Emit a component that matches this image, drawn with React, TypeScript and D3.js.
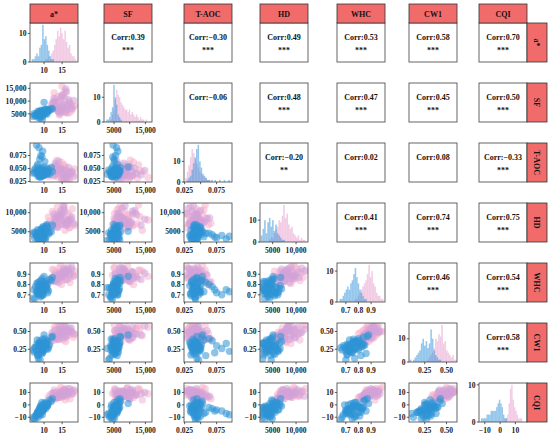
import React from "react";
import * as d3 from "d3";

const VARS = ["a*", "SF", "T-AOC", "HD", "WHC", "CW1", "CQI"];
const DOMAINS: [number, number][] = [
  [6.1, 19.4], [1800, 17100], [0.024, 0.099], [2300, 12550], [0.63, 1.01], [0.07, 0.62], [-13.8, 17.6],
];
const TICKS: number[][] = [
  [10, 15], [5000, 10000, 15000], [0.025, 0.05, 0.075], [5000, 10000], [0.7, 0.8, 0.9], [0.25, 0.5], [-10, 0, 10],
];
// x-axis labels that are hidden because of overlap
const X_HIDDEN: number[][] = [[], [10000], [0.05], [], [], [], []];

// columns: a*, SF, T-AOC, HD, WHC, CW1, CQI
const BLUE_ROWS: number[][] = [
  [9.2, 5200, 0.042, 5600, 0.72, 0.31, -3], [8.5, 4800, 0.038, 4100, 0.8, 0.24, -6],
  [10.1, 5600, 0.045, 3400, 0.76, 0.35, -1], [9.8, 6100, 0.04, 6100, 0.7, 0.22, -4],
  [7.6, 4300, 0.05, 4700, 0.78, 0.28, -9], [8.9, 5000, 0.036, 3000, 0.83, 0.33, -2],
  [11.2, 6500, 0.047, 4400, 0.74, 0.27, 1], [9.5, 5400, 0.043, 5200, 0.86, 0.19, -5],
  [8.1, 4600, 0.055, 3700, 0.73, 0.38, -7], [10.6, 5900, 0.039, 6600, 0.79, 0.26, 0],
  [9.0, 3900, 0.041, 4000, 0.68, 0.3, -8], [7.2, 5100, 0.046, 4900, 0.75, 0.21, -11],
  [10.3, 6800, 0.044, 2800, 0.81, 0.34, -2], [9.4, 5700, 0.048, 5800, 0.77, 0.25, 2],
  [8.7, 4400, 0.034, 4300, 0.71, 0.32, -5], [12.0, 7100, 0.052, 5000, 0.84, 0.42, 3],
  [9.9, 5300, 0.037, 3600, 0.74, 0.29, -3], [8.3, 6000, 0.058, 4600, 0.82, 0.16, -6],
  [10.8, 4900, 0.041, 6900, 0.76, 0.36, -1], [9.1, 5500, 0.075, 3400, 0.72, 0.3, -4],
  [8.6, 5800, 0.09, 3100, 0.75, 0.33, -7], [9.6, 6200, 0.083, 4000, 0.7, 0.26, -5],
  [8.8, 5000, 0.068, 4200, 0.78, 0.37, -3], [7.9, 4700, 0.095, 3800, 0.73, 0.22, -8],
  [10.2, 5100, 0.063, 4600, 0.8, 0.4, -2], [9.3, 4200, 0.035, 5400, 0.69, 0.28, 0],
  [8.4, 3600, 0.044, 2900, 0.77, 0.12, -10], [11.5, 6300, 0.039, 4800, 0.85, 0.31, 4],
  [9.7, 5200, 0.049, 6300, 0.73, 0.23, -4], [7.4, 4500, 0.042, 3300, 0.66, 0.27, -12],
  [10.0, 9500, 0.053, 5100, 0.88, 0.45, 1], [9.0, 5600, 0.033, 3900, 0.79, 0.35, -1],
  [8.2, 5300, 0.04, 5500, 0.71, 0.18, -6], [10.5, 6600, 0.046, 3500, 0.83, 0.29, -3],
  [9.6, 4100, 0.038, 4500, 0.76, 0.39, -2], [11.0, 5800, 0.05, 6000, 0.72, 0.25, 0],
  [8.0, 4900, 0.045, 4100, 0.81, 0.32, -9], [9.2, 6400, 0.037, 3200, 0.74, 0.21, -3],
  [10.4, 5000, 0.043, 5700, 0.78, 0.34, 2], [8.9, 3300, 0.047, 4700, 0.7, 0.1, -7],
  [9.8, 5700, 0.036, 3800, 0.82, 0.28, -4], [7.0, 4000, 0.041, 4400, 0.67, 0.24, -10],
  [12.3, 6900, 0.044, 6700, 0.87, 0.43, 5], [9.4, 4600, 0.072, 3600, 0.75, 0.2, -5],
  [10.9, 6100, 0.04, 4900, 0.8, 0.37, -1], [8.5, 5400, 0.048, 5300, 0.73, 0.3, -4],
  [9.5, 2800, 0.039, 2700, 0.77, 0.26, -8], [9.1, 5900, 0.051, 4300, 0.84, 0.31, -2],
  [10.7, 6700, 0.042, 6400, 0.76, 0.33, 1], [8.3, 4300, 0.035, 3100, 0.71, 0.17, -6],
];
const PINK_ROWS: number[][] = [
  [14.5, 7500, 0.045, 9200, 0.84, 0.52, 6], [13.2, 10800, 0.036, 6500, 0.92, 0.41, 10],
  [16.0, 6200, 0.052, 8000, 0.88, 0.36, 8], [15.1, 12500, 0.031, 7100, 0.86, 0.55, 12],
  [12.3, 8400, 0.048, 10300, 0.95, 0.46, 7], [17.2, 5600, 0.04, 6200, 0.82, 0.49, 5],
  [14.0, 9600, 0.058, 8700, 0.9, 0.39, 9], [13.7, 6800, 0.034, 11500, 0.87, 0.58, 11],
  [15.8, 14000, 0.044, 5400, 0.93, 0.44, 4], [11.6, 7200, 0.05, 7800, 0.85, 0.34, 8],
  [16.6, 5200, 0.029, 9800, 0.97, 0.51, 13], [14.8, 11200, 0.062, 6800, 0.8, 0.47, 6],
  [13.0, 9000, 0.042, 8300, 0.91, 0.57, 10], [18.1, 7800, 0.038, 7400, 0.89, 0.42, 9],
  [15.4, 6000, 0.055, 10800, 0.84, 0.38, 7], [12.8, 13200, 0.046, 9000, 0.94, 0.53, 12],
  [16.9, 8800, 0.027, 6000, 0.87, 0.45, 8], [14.2, 5000, 0.039, 8500, 0.96, 0.6, 11],
  [13.5, 10200, 0.066, 7200, 0.83, 0.4, 5], [17.8, 6600, 0.043, 11000, 0.91, 0.48, 10],
  [15.0, 15800, 0.033, 8100, 0.88, 0.56, 9], [12.0, 7000, 0.047, 5800, 0.86, 0.37, 3],
  [14.6, 9300, 0.053, 9500, 0.99, 0.5, 14], [16.3, 5800, 0.037, 7600, 0.85, 0.43, 7],
  [13.9, 11800, 0.041, 10000, 0.9, 0.54, 8], [18.4, 8200, 0.049, 6600, 0.93, 0.46, 11],
  [11.2, 6400, 0.035, 8900, 0.81, 0.33, 6], [15.6, 12800, 0.057, 12000, 0.94, 0.59, 13],
  [14.3, 4500, 0.045, 6900, 0.89, 0.41, 9], [17.0, 9900, 0.03, 9300, 0.86, 0.52, 10],
];
const VIOLET_ROWS: number[][] = [
  [15.2, 8600, 0.047, 7000, 0.9, 0.48, 8], [13.4, 7300, 0.039, 8800, 0.86, 0.44, 7],
  [16.8, 10500, 0.052, 7700, 0.93, 0.5, 10], [14.1, 6100, 0.044, 9600, 0.88, 0.53, 9],
  [12.5, 9500, 0.036, 6400, 0.84, 0.4, 6], [17.5, 7900, 0.041, 8200, 0.95, 0.55, 11],
  [14.7, 11600, 0.05, 10600, 0.87, 0.47, 8], [15.9, 5500, 0.033, 7300, 0.91, 0.42, 12],
  [13.1, 8100, 0.06, 8400, 0.89, 0.51, 7], [16.2, 13600, 0.038, 6700, 0.85, 0.45, 9],
  [14.4, 6900, 0.046, 9100, 0.92, 0.57, 10], [12.9, 10000, 0.054, 7500, 0.83, 0.38, 5],
  [15.5, 7600, 0.031, 11200, 0.96, 0.49, 11], [17.1, 9200, 0.043, 8000, 0.9, 0.54, 13],
  [13.8, 6300, 0.048, 6100, 0.87, 0.43, 6], [15.0, 12200, 0.04, 9400, 0.88, 0.46, 8],
  [16.5, 8300, 0.035, 7800, 0.94, 0.52, 10], [14.0, 5900, 0.064, 8600, 0.82, 0.39, 7],
  [12.2, 8900, 0.042, 7100, 0.86, 0.48, 9], [15.7, 10900, 0.037, 10400, 0.92, 0.56, 12],
  [17.7, 7100, 0.045, 8900, 0.97, 0.5, 9], [13.6, 9700, 0.051, 6300, 0.85, 0.44, 6],
  [14.9, 6500, 0.028, 9800, 0.89, 0.41, 11], [16.0, 14800, 0.046, 8300, 0.91, 0.58, 10],
  [13.3, 7700, 0.056, 7600, 0.84, 0.45, 8], [15.3, 8500, 0.039, 11800, 0.93, 0.53, 7],
  [18.2, 10300, 0.034, 7000, 0.88, 0.47, 12], [14.5, 5300, 0.049, 8100, 0.9, 0.51, 9],
  [12.7, 11000, 0.044, 9700, 0.86, 0.42, 10], [16.4, 6700, 0.032, 6900, 0.95, 0.49, 8],
];

// histogram bins (30 per variable)
const HIST_START = [6.6, 2500, 0.026, 2500, 0.65, 0.08, -12.5];
const HIST_WIDTH = [0.41, 450, 0.0024, 340, 0.012, 0.018, 0.9];
const HIST_BLUE: number[][] = [
  [1, 1, 2, 3, 2, 5, 6, 13, 8, 9, 6, 4, 2, 1, 1, 0, 0, 0, 0, 0, 0, 0, 0, 0, 0, 0, 0, 0, 0, 0],
  [1, 1, 2, 4, 6, 15, 10, 7, 3, 2, 1, 0, 0, 0, 0, 0, 0, 0, 0, 0, 0, 0, 0, 0, 0, 0, 0, 0, 0, 0],
  [0, 1, 2, 3, 6, 9, 12, 16, 18, 10, 7, 4, 3, 2, 1, 1, 0, 1, 0, 1, 0, 0, 1, 0, 0, 1, 0, 0, 1, 0],
  [3, 6, 10, 4, 9, 11, 7, 10, 5, 8, 4, 3, 2, 1, 1, 0, 0, 0, 0, 0, 0, 0, 0, 0, 0, 0, 0, 0, 0, 0],
  [1, 1, 2, 3, 4, 5, 4, 6, 7, 9, 11, 8, 6, 4, 3, 2, 1, 1, 0, 0, 0, 0, 0, 0, 0, 0, 0, 0, 0, 0],
  [1, 0, 1, 2, 3, 4, 5, 8, 10, 7, 9, 6, 8, 14, 10, 5, 3, 2, 1, 1, 0, 0, 0, 0, 0, 0, 0, 0, 0, 0],
  [1, 1, 1, 1, 2, 2, 2, 3, 3, 3, 3, 4, 5, 6, 5, 4, 2, 1, 1, 0, 0, 0, 0, 0, 0, 0, 0, 0, 0, 0],
];
const HIST_PINK: number[][] = [
  [0, 0, 0, 0, 0, 0, 0, 0, 0, 1, 1, 2, 1, 3, 4, 6, 8, 11, 9, 12, 10, 8, 11, 7, 5, 6, 3, 2, 2, 1],
  [0, 0, 0, 1, 3, 5, 9, 13, 11, 10, 8, 7, 6, 5, 5, 4, 5, 3, 4, 3, 2, 3, 2, 1, 2, 1, 1, 0, 1, 0],
  [2, 5, 8, 12, 16, 14, 11, 9, 7, 5, 4, 3, 2, 2, 1, 1, 1, 0, 0, 0, 0, 0, 0, 0, 0, 0, 0, 0, 0, 0],
  [0, 0, 0, 0, 0, 1, 2, 2, 4, 6, 7, 10, 9, 12, 17, 11, 13, 8, 6, 7, 4, 3, 2, 3, 1, 2, 1, 1, 0, 0],
  [0, 0, 0, 0, 0, 0, 0, 0, 0, 0, 1, 1, 2, 3, 4, 5, 6, 7, 9, 12, 8, 10, 6, 5, 3, 2, 2, 1, 1, 0],
  [0, 0, 0, 0, 0, 0, 0, 0, 0, 0, 0, 1, 2, 3, 4, 6, 10, 9, 12, 11, 16, 8, 9, 5, 4, 3, 2, 3, 1, 1],
  [0, 0, 0, 0, 0, 0, 0, 0, 0, 0, 0, 0, 0, 0, 0, 0, 0, 1, 1, 2, 5, 9, 10, 6, 4, 3, 2, 1, 1, 1],
];

// upper triangle correlations, row by row
const CORR_TEXT: string[][] = [
  ["0.39", "−0.30", "0.49", "0.53", "0.58", "0.70"],
  ["−0.06", "0.48", "0.47", "0.45", "0.50"],
  ["−0.20", "0.02", "0.08", "−0.33"],
  ["0.41", "0.74", "0.75"],
  ["0.46", "0.54"],
  ["0.58"],
];
const CORR_STARS: string[][] = [
  ["***", "***", "***", "***", "***", "***"],
  ["", "***", "***", "***", "***"],
  ["**", "", "", "***"],
  ["***", "***", "***"],
  ["***", "***"],
  ["***"],
];

const COL_LEFT = [30, 104, 184, 260, 337, 409, 479];
const ROW_TOP = [23, 83, 143, 203, 263, 323, 383];
const PW = 48;
const PH = 39;
const FONT = "'Liberation Serif', 'Times New Roman', serif";
const HEAD_FILL = "#F26B6B";

function fmtTick(v: number, k: number): string {
  let s: string;
  if (k === 1 || k === 3) s = v >= 10000 ? d3.format(",")(v) : d3.format("d")(v);
  else if (k === 2) s = d3.format(".3f")(v);
  else if (k === 4) s = d3.format(".1f")(v);
  else if (k === 5) s = d3.format(".2f")(v);
  else s = d3.format("d")(v);
  return s.replace("-", "−");
}

export default function App() {
  const n = VARS.length;
  const scalesX = DOMAINS.map((d, k) => d3.scaleLinear().domain(d).range([COL_LEFT[k], COL_LEFT[k] + PW]));
  const scalesY = DOMAINS.map((d, k) => d3.scaleLinear().domain(d).range([ROW_TOP[k] + PH, ROW_TOP[k]]));
  const els: React.ReactNode[] = [];
  const tickCol = "#333";
  const tickFs = 7.6;

  const xAxis = (i: number, j: number, sx: d3.ScaleLinear<number, number>, ticks: number[], hidden: number[], fmt: (v: number) => string) => {
    const y0 = ROW_TOP[i] + PH;
    return ticks.map((t, q) => (
      <g key={`xa${i}-${j}-${q}`}>
        <line x1={sx(t)} x2={sx(t)} y1={y0} y2={y0 + 2.2} stroke={tickCol} strokeWidth={0.8} />
        {hidden.includes(t) ? null : (
          <text x={sx(t)} y={y0 + 10.5} textAnchor="middle" fontSize={tickFs} fontWeight="bold" fill="#222">{fmt(t)}</text>
        )}
      </g>
    ));
  };
  const yAxis = (i: number, j: number, sy: d3.ScaleLinear<number, number>, ticks: number[], fmt: (v: number) => string) => {
    const x0 = COL_LEFT[j];
    return ticks.map((t, q) => (
      <g key={`ya${i}-${j}-${q}`}>
        <line x1={x0 - 2.2} x2={x0} y1={sy(t)} y2={sy(t)} stroke={tickCol} strokeWidth={0.8} />
        <text x={x0 - 3.5} y={sy(t) + 2.7} textAnchor="end" fontSize={tickFs} fontWeight="bold" fill="#222">{fmt(t)}</text>
      </g>
    ));
  };

  for (let i = 0; i < n; i++) {
    for (let j = 0; j < n; j++) {
      const x0 = COL_LEFT[j];
      const y0 = ROW_TOP[i];
      const clipId = `clip-${i}-${j}`;
      if (i === j) {
        const sx = scalesX[j];
        const maxC = Math.max(d3.max(HIST_BLUE[j]) || 0, d3.max(HIST_PINK[j]) || 0);
        const sy = d3.scaleLinear().domain([0, maxC * 1.05]).range([y0 + PH, y0]);
        const bars = (arr: number[], fill: string, key: string) =>
          arr.map((c, b) => {
            if (c <= 0) return null;
            const a = HIST_START[j] + b * HIST_WIDTH[j];
            return (
              <rect key={`${key}${b}`} x={sx(a)} y={sy(c)} width={sx(a + HIST_WIDTH[j]) - sx(a)} height={sy(0) - sy(c)} fill={fill} fillOpacity={0.55} />
            );
          });
        els.push(
          <g key={`p${i}-${j}`}>
            <clipPath id={clipId}><rect x={x0} y={y0} width={PW} height={PH} /></clipPath>
            <rect x={x0} y={y0} width={PW} height={PH} fill="white" />
            <g clipPath={`url(#${clipId})`}>
              {bars(HIST_PINK[j], "#E8A3CE", "hp")}
              {bars(HIST_BLUE[j], "#3E98DC", "hb")}
            </g>
            <rect x={x0} y={y0} width={PW} height={PH} fill="none" stroke="#555" strokeWidth={0.9} />
            {yAxis(i, j, sy, [0, 10], (v) => String(v))}
            {xAxis(i, j, sx, TICKS[j], X_HIDDEN[j], (v) => fmtTick(v, j))}
          </g>
        );
      } else if (i > j) {
        const sx = scalesX[j];
        const sy = scalesY[i];
        const pts = (rows: number[][], fill: string, key: string) =>
          rows.map((r, q) => (
            <circle key={`${key}${q}`} cx={sx(r[j])} cy={sy(r[i])} r={3.7} fill={fill} fillOpacity={0.55} />
          ));
        els.push(
          <g key={`p${i}-${j}`}>
            <clipPath id={clipId}><rect x={x0} y={y0} width={PW} height={PH} /></clipPath>
            <rect x={x0} y={y0} width={PW} height={PH} fill="white" />
            <g clipPath={`url(#${clipId})`}>
              {pts(PINK_ROWS, "#F6B2CE", "pp")}
              {pts(VIOLET_ROWS, "#D2A3D8", "pv")}
              {pts(BLUE_ROWS, "#2E93D6", "pb")}
            </g>
            <rect x={x0} y={y0} width={PW} height={PH} fill="none" stroke="#555" strokeWidth={0.9} />
            {yAxis(i, j, sy, TICKS[i], (v) => fmtTick(v, i))}
            {xAxis(i, j, sx, TICKS[j], X_HIDDEN[j], (v) => fmtTick(v, j))}
          </g>
        );
      } else {
        const txt = CORR_TEXT[i][j - i - 1];
        const st = CORR_STARS[i][j - i - 1];
        els.push(
          <g key={`p${i}-${j}`}>
            <rect x={x0} y={y0} width={PW} height={PH} fill="white" stroke="#555" strokeWidth={0.9} />
            <text x={x0 + PW / 2} y={y0 + PH * 0.35 + 3} textAnchor="middle" fontSize={8} fontWeight="bold" fill="#111">{`Corr:${txt}`}</text>
            {st ? (
              <text x={x0 + PW / 2} y={y0 + PH * 0.67 + 3.5} textAnchor="middle" fontSize={8} fontWeight="bold" fill="#111">{st}</text>
            ) : null}
          </g>
        );
      }
    }
  }

  const headers = VARS.map((v, j) => (
    <g key={`h${j}`}>
      <rect x={COL_LEFT[j]} y={4} width={PW} height={19} fill={HEAD_FILL} stroke="#333" strokeWidth={0.8} />
      <text x={COL_LEFT[j] + PW / 2} y={16.5} textAnchor="middle" fontSize={8} fontWeight="bold" fill="#111">{v}</text>
    </g>
  ));
  const stripX = COL_LEFT[n - 1] + PW;
  const strips = VARS.map((v, i) => (
    <g key={`s${i}`}>
      <rect x={stripX} y={ROW_TOP[i]} width={20} height={PH} fill={HEAD_FILL} stroke="#333" strokeWidth={0.8} />
      <text transform={`translate(${stripX + 10 - 2.8},${ROW_TOP[i] + PH / 2}) rotate(90)`} textAnchor="middle" fontSize={8} fontWeight="bold" fill="#111">{v}</text>
    </g>
  ));

  return (
    <svg width={550} height={435} style={{ position: "absolute", left: 0, top: 0, background: "white" }} fontFamily={FONT}>
      <rect x={0} y={0} width={550} height={435} fill="white" />
      {els}
      {headers}
      {strips}
    </svg>
  );
}
